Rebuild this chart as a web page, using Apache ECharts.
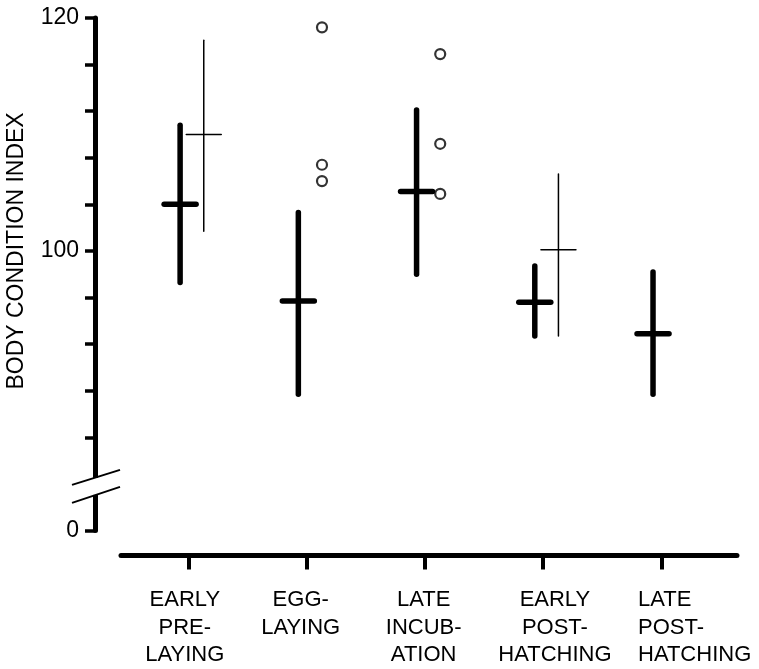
<!DOCTYPE html>
<html>
<head>
<meta charset="utf-8">
<script src="https://cdn.jsdelivr.net/npm/echarts@6/dist/echarts.min.js"></script>
<style>
html,body{margin:0;padding:0;background:#fff;}
#chart{width:759px;height:669px;}
</style>
</head>
<body>
<div id="chart"></div>
<script>
// ---- data ----
const categories = ['EARLY\nPRE-\nLAYING', 'EGG-\nLAYING', 'LATE\nINCUB-\nATION', 'EARLY\nPOST-\nHATCHING', 'LATE\nPOST-\nHATCHING'];
const catPos = [1, 2, 3, 4, 5];
const mainLow  = [97.3, 87.7, 98.0, 92.7, 87.7];
const mainMed  = [104.0, 95.7, 105.1, 95.6, 92.9];
const mainHigh = [110.8, 103.3, 112.1, 98.7, 98.2];
const secLow   = [101.7, null, null, 92.7, null];
const secMed   = [110.0, null, null, 100.1, null];
const secHigh  = [118.1, null, null, 106.6, null];
const outlierCat = [2, 2, 2, 3, 3, 3];
const outlierVal = [119.2, 107.4, 106.0, 116.9, 109.2, 104.9];
const yTickValues = [76, 84, 88, 92, 96, 100, 104, 108, 112, 116, 120];
const yLabelValues = [76, 100, 120];
const yLabelText = {76: '0', 100: '100', 120: '120'};
const yTitle = 'BODY CONDITION INDEX';

// ---- layout / style constants ----
const SIDE = 0.2;                                   // offset of second series / open circles
const TICK_SHIFT = 0.07;                            // x ticks sit slightly right of the marks in the original
const LABEL_SHIFT = [0.04, 0.02, 0.06, 0.17, 0.372];
const FONT = 'Liberation Sans';

const mainData = catPos.map((c, i) => [c, mainLow[i], mainMed[i], mainHigh[i]]);
const secData = catPos.map((c, i) => secMed[i] == null ? null : [c + SIDE, secLow[i], secMed[i], secHigh[i]]).filter(d => d);
const outData = outlierCat.map((c, i) => [c + SIDE, outlierVal[i]]);
const xTickPos = catPos.map(c => c + TICK_SHIFT);
const xLabelPos = catPos.map((c, i) => c + LABEL_SHIFT[i]);

function makeRender(lw, half) {
  return function (params, api) {
    const x = api.value(0);
    const lo = api.coord([x, api.value(1)]);
    const md = api.coord([x, api.value(2)]);
    const hi = api.coord([x, api.value(3)]);
    const st = {stroke: '#000', lineWidth: lw, lineCap: 'round'};
    return {
      type: 'group',
      children: [
        {type: 'line', shape: {x1: lo[0], y1: lo[1], x2: hi[0], y2: hi[1]}, style: st},
        {type: 'line', shape: {x1: md[0] - half, y1: md[1], x2: md[0] + half, y2: md[1]}, style: st}
      ]
    };
  };
}

function xLabel(v) {
  const i = xLabelPos.findIndex(p => Math.abs(p - v) < 0.01);
  if (i < 0) return '';
  if (i === categories.length - 1) {
    return categories[i].split('\n').map(s => '{l|' + s + '}').join('\n');
  }
  return categories[i];
}

const chart = echarts.init(document.getElementById('chart'), null, {renderer: 'canvas'});
chart.setOption({
  animation: false,
  backgroundColor: '#fff',
  grid: {left: 121, right: 22, top: 18, bottom: 133},
  xAxis: {
    type: 'value', min: 0.5, max: 5.71, offset: 25,
    splitLine: {show: false},
    axisLine: {show: true, lineStyle: {color: '#000', width: 5, cap: 'round'}},
    axisTick: {show: true, customValues: xTickPos, length: 14, lineStyle: {color: '#000', width: 4}},
    axisLabel: {
      customValues: xLabelPos, margin: 31, color: '#000', fontFamily: FONT, fontSize: 22, lineHeight: 27.5,
      formatter: xLabel,
      rich: {l: {width: 118, align: 'left', fontFamily: FONT, fontSize: 22, lineHeight: 27.5, color: '#000'}}
    }
  },
  yAxis: {
    type: 'value', min: 76, max: 120, interval: 4, offset: 26,
    splitLine: {show: false},
    axisLine: {show: true, lineStyle: {color: '#000', width: 5}},
    axisTick: {show: true, customValues: yTickValues, length: 10, lineStyle: {color: '#000', width: 3.5}},
    axisLabel: {
      customValues: yLabelValues, margin: 16, color: '#000', fontFamily: FONT, fontSize: 23,
      formatter: v => yLabelText[v] || ''
    }
  },
  series: [
    {type: 'custom', renderItem: makeRender(5.5, 16), data: mainData, encode: {x: 0, y: [1, 2, 3]}, z: 3},
    {type: 'custom', renderItem: makeRender(1.5, 17.5), data: secData, encode: {x: 0, y: [1, 2, 3]}, z: 3},
    {type: 'scatter', data: outData, symbol: 'circle', symbolSize: 10,
     itemStyle: {color: '#fff', borderColor: '#000', borderWidth: 2.2}, z: 4}
  ]
});

const gridLeft = chart.convertToPixel({xAxisIndex: 0}, 0.5);
const axX = gridLeft - 26;
const yb = chart.convertToPixel({yAxisIndex: 0}, 80) + 2;
const yMid = chart.convertToPixel({yAxisIndex: 0}, 100);
chart.setOption({
  graphic: [
    {type: 'rect', shape: {x: axX - 5, y: yb - 8, width: 10, height: 17}, style: {fill: '#fff'}, z: 100},
    {type: 'line', shape: {x1: axX - 23, y1: yb - 1, x2: axX + 25, y2: yb - 16}, style: {stroke: '#000', lineWidth: 2}, z: 101},
    {type: 'line', shape: {x1: axX - 23, y1: yb + 17, x2: axX + 25, y2: yb + 1}, style: {stroke: '#000', lineWidth: 2}, z: 101},
    {type: 'text', x: 17, y: yMid, rotation: Math.PI / 2,
     style: {text: yTitle, x: 0, y: 0, align: 'center', verticalAlign: 'middle', fill: '#000', font: '23px "' + FONT + '"'}, z: 101}
  ]
});
</script>
</body>
</html>
